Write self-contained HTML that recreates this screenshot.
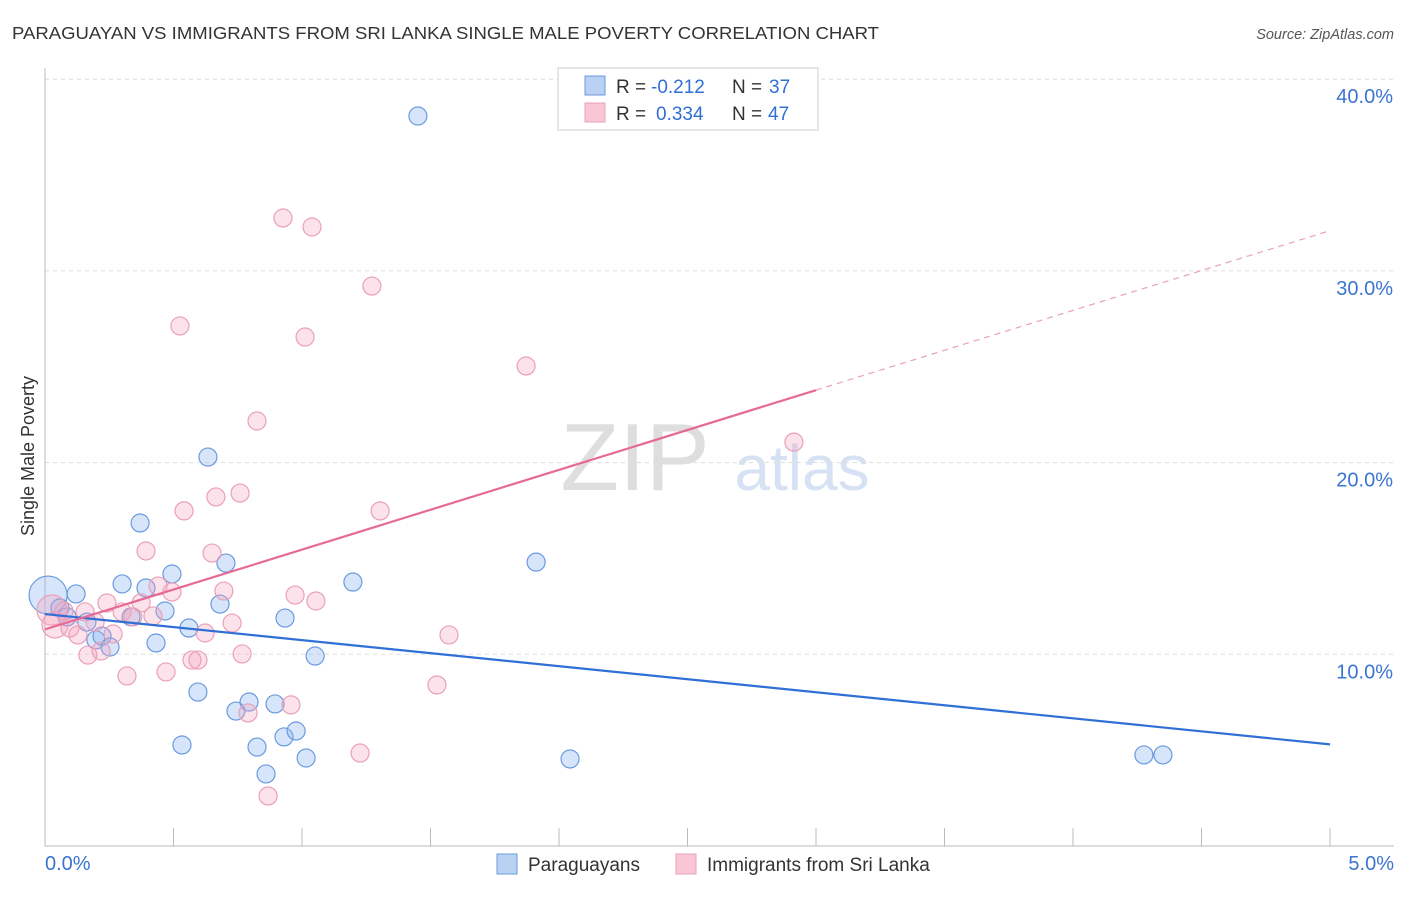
<!DOCTYPE html>
<html><head><meta charset="utf-8"><style>
body{margin:0;background:#fff;font-family:"Liberation Sans",sans-serif}
svg text{font-family:"Liberation Sans",sans-serif}
</style></head><body>
<svg id="c" width="1406" height="892" xmlns="http://www.w3.org/2000/svg">
<text x="12" y="39" font-size="17.5" fill="#333" textLength="867" lengthAdjust="spacingAndGlyphs">PARAGUAYAN VS IMMIGRANTS FROM SRI LANKA SINGLE MALE POVERTY CORRELATION CHART</text>
<text x="1394" y="39" font-size="14.5" fill="#555" font-style="italic" text-anchor="end">Source: ZipAtlas.com</text>
<text x="635" y="490" font-size="96" fill="#dedede" font-family="Liberation Serif" text-anchor="middle">ZIP</text>
<text x="802" y="490" font-size="64" fill="#d6e2f4" text-anchor="middle">atlas</text>
<text transform="translate(34,456) rotate(-90)" font-size="18" fill="#333" text-anchor="middle">Single Male Poverty</text>
<g id="grid"></g><g id="marks"></g>
<g>
<rect x="558" y="68" width="260" height="62" fill="#fff" stroke="#ccc"/>
<rect x="585" y="76" width="20" height="19" fill="#b9d1f3" stroke="#6a9ae0"/>
<rect x="585" y="103" width="20" height="19" fill="#f9c6d6" stroke="#eaa0b8"/>
<text y="93" font-size="19" fill="#333"><tspan x="616">R =</tspan><tspan x="651" fill="#2f6fd6">-0.212</tspan><tspan x="732">N =</tspan><tspan x="769" fill="#2f6fd6">37</tspan></text>
<text y="120" font-size="19" fill="#333"><tspan x="616">R =</tspan><tspan x="656" fill="#2f6fd6">0.334</tspan><tspan x="732">N =</tspan><tspan x="768" fill="#2f6fd6">47</tspan></text>
</g>
<g>
<rect x="497" y="854" width="20" height="20" fill="#b9d1f3" stroke="#6a9ae0"/>
<text x="528" y="871" font-size="19" fill="#333">Paraguayans</text>
<rect x="676" y="854" width="20" height="20" fill="#f9c6d6" stroke="#eaa0b8"/>
<text x="707" y="871" font-size="19" fill="#333">Immigrants from Sri Lanka</text>
</g>
</svg>
<script>
const xTicks=[0,0.5,1,1.5,2,2.5,3,3.5,4,4.5,5];
const yTicks=[10,20,30,40];
const yTickLabels=["10.0%","20.0%","30.0%","40.0%"];
const xTickLabels=["0.0%","5.0%"];
const blueX=[0.012,0.058,0.121,0.086,0.163,0.198,0.222,0.253,0.300,0.335,0.370,0.393,0.432,0.467,0.494,0.560,0.533,0.595,0.634,0.681,0.704,0.743,0.794,0.825,0.860,0.895,0.930,0.977,0.934,1.016,1.051,1.198,1.451,1.911,2.043,4.276,4.350];
const blueY=[13.09,12.42,13.15,11.95,11.68,10.75,10.95,10.38,13.67,11.95,16.85,13.46,10.59,12.26,14.19,11.37,5.27,8.03,20.29,12.62,14.76,7.04,7.51,5.16,3.76,7.41,5.69,6.00,11.89,4.59,9.91,13.77,38.08,14.81,4.54,4.75,4.75];
const pinkX=[0.027,0.039,0.074,0.097,0.128,0.156,0.167,0.195,0.218,0.241,0.265,0.300,0.319,0.342,0.374,0.393,0.420,0.440,0.471,0.494,0.525,0.541,0.572,0.595,0.623,0.650,0.665,0.696,0.728,0.759,0.767,0.790,0.825,0.868,0.926,0.957,0.973,1.012,1.039,1.054,1.226,1.272,1.304,1.525,1.572,1.872,2.914];
const pinkY=[12.31,11.53,12.26,11.37,11.01,12.21,9.96,11.68,10.17,12.68,11.06,12.21,8.87,11.95,12.68,15.39,12.00,13.56,9.08,13.25,27.13,17.48,9.70,9.70,11.11,15.28,18.21,13.30,11.63,18.41,10.02,6.94,22.17,2.61,32.76,7.36,13.09,26.55,32.29,12.78,4.85,29.21,17.48,8.40,11.01,25.04,21.07];
const blueTrend=[12.1,5.3];
const pinkTrend=[11.3,32.1];
const pinkSolidEnd=3.0;
const X=v=>45+v/5*1285, Y=v=>846-v/10*191.7;
const NS="http://www.w3.org/2000/svg";
function mk(t,a,p){const e=document.createElementNS(NS,t);for(const k in a)e.setAttribute(k,a[k]);p.appendChild(e);return e;}
const g=document.getElementById('grid'), m=document.getElementById('marks');
yTicks.forEach((t,i)=>{
 const l=mk('line',{x1:45,x2:1394,y1:Y(t),y2:Y(t),stroke:'#ddd','stroke-dasharray':'4,4'},g);
 
 
 const tx=mk('text',{x:1393,y:Y(t)+24,'font-size':20,fill:'#3b74d1','text-anchor':'end'},g);
 tx.textContent=yTickLabels[i];
 
 
});
let a=mk('line',{x1:45,x2:1394,y1:846,y2:846,stroke:'#bbb'},g);


a=mk('line',{x1:45,x2:45,y1:68,y2:846,stroke:'#bbb'},g);


xTicks.forEach(t=>{const l=mk('line',{x1:X(t),x2:X(t),y1:828,y2:846,stroke:'#bbb'},g);
 
 });
[[0,'start',45],[5,'end',1394]].forEach((d,i)=>{const tx=mk('text',{x:d[2],y:870,'font-size':20,fill:'#3b74d1','text-anchor':d[1]},g);
 tx.textContent=xTickLabels[i];
 
 });
function pts(xs,ys,fill,stroke,name){xs.forEach((x,i)=>{const r=i===0?(name==='blue'?19:15):(i===1&&name==='pink'?13:9);
 const c=mk('circle',{cx:X(x),cy:Y(ys[i]),r:r,fill:fill,stroke:stroke,'stroke-width':1.2},m);
 
 });}
pts(blueX,blueY,'rgba(140,180,240,0.35)','#6a9ae0','blue');
pts(pinkX,pinkY,'rgba(245,160,190,0.3)','#eaa0b8','pink');
let ln=mk('line',{x1:X(0),y1:Y(blueTrend[0]),x2:X(5),y2:Y(blueTrend[1]),stroke:'#2f6fd6','stroke-width':2.2},m);


const py=v=>pinkTrend[0]+(pinkTrend[1]-pinkTrend[0])*v/5;
ln=mk('line',{x1:X(0),y1:Y(py(0)),x2:X(pinkSolidEnd),y2:Y(py(pinkSolidEnd)),stroke:'#e76a95','stroke-width':2.2},m);


ln=mk('line',{x1:X(pinkSolidEnd),y1:Y(py(pinkSolidEnd)),x2:X(5),y2:Y(py(5)),stroke:'#eaa0b8','stroke-width':1.2,'stroke-dasharray':'6,5'},m);


</script>
</body></html>
